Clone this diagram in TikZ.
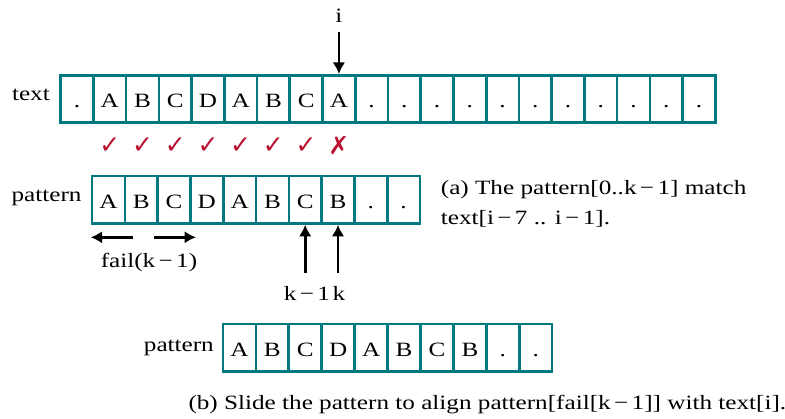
\documentclass[tikz,border=0pt]{standalone}
\usepackage{fontspec}
\setmainfont{Liberation Serif}[FakeStretch=1.24]
\newfontfamily\symfont{DejaVu Sans}
\usetikzlibrary{arrows.meta,calc}
\definecolor{cellteal}{RGB}{0,122,128}
\definecolor{markred}{RGB}{185,16,48}
\begin{document}
\begin{tikzpicture}[x=1pt,y=-1pt,
  cell/.style={draw=cellteal,line width=2.6pt,minimum width=32.8pt,minimum height=47.4pt,
    inner sep=0pt,text height=17pt,text depth=0pt,font=\fontsize{20.3}{24}\selectfont},
  lab/.style={inner sep=0pt,font=\fontsize{20.3}{24}\selectfont},
  arr/.style={line width=2.6pt,-{Latex[length=11.5pt,width=12.5pt]}},
  okmark/.style={inner sep=0pt,text=markred,font=\symfont\fontsize{25}{28}\selectfont}
]
\useasboundingbox (0,0) rectangle (785,419);
% text row
\foreach \c [count=\j from 0] in {{.},A,B,C,D,A,B,C,A,{.},{.},{.},{.},{.},{.},{.},{.},{.},{.},{.}}
  \node[cell] (t\j) at ({60.7+(\j+0.5)*32.73},99) {\c};
% pattern (a)
\foreach \c [count=\j from 0] in {A,B,C,D,A,B,C,B,{.},{.}}
  \node[cell] (pa\j) at ({92+(\j+0.5)*32.8},199.8) {\c};
% pattern (b)
\foreach \c [count=\j from 0] in {A,B,C,D,A,B,C,B,{.},{.}}
  \node[cell] (pb\j) at ({223+(\j+0.5)*32.92},347.7) {\c};
% labels
\node[lab,anchor=base east] (textlab) at (50,101) {text};
\node[lab,anchor=base east] (patlabA) at (81.7,201.7) {pattern};
\node[lab,anchor=base east] (patlabB) at (214,351.7) {pattern};
% i arrow
\node[lab,anchor=base] (ilab) at (338.9,22.7) {i};
\draw[arr] ($(t8.north |- ilab.south)+(0,9)$) -- (t8.north);
% marks
\foreach \j in {1,...,7}
  \node[okmark] (m\j) at ({60.7+(\j+0.5)*32.73},145.5) {✓};
\node[okmark] (m8) at ({60.7+8.5*32.73},145.5) {✗};
% fail arrows
\node[lab,anchor=base] (fail) at (149,268) {fail(k\,−\,1)};
\coordinate (fl) at (133.3,237.3);
\coordinate (fr) at (154,237.3);
\coordinate (frt) at (196,237.3);
\draw[arr] (fl) -- (fl -| pa0.west);
\draw[arr] (fr) -- (frt);
% k arrows
\node[lab,anchor=base] (km1) at (307,301) {k\,−\,1};
\node[lab,anchor=base] (klab) at (339,301) {k};
\draw[arr] ($(pa6.south |- km1.north)+(0,-14)$) -- (pa6.south);
\draw[arr] ($(pa7.south |- klab.north)+(0,-14)$) -- (pa7.south);
% captions
\node[lab,anchor=base west] (capA1) at (440.7,194.7) {(a) The pattern[0..k\,−\,1] match};
\node[lab,anchor=base west] (capA2) at (440.7,224.7) {text[i\,−\,7 .. i\,−\,1].};
\node[lab,anchor=base west] (capB) at (188.3,410) {(b) Slide the pattern to align pattern[fail[k\,−\,1]] with text[i].};
\end{tikzpicture}
\end{document}
